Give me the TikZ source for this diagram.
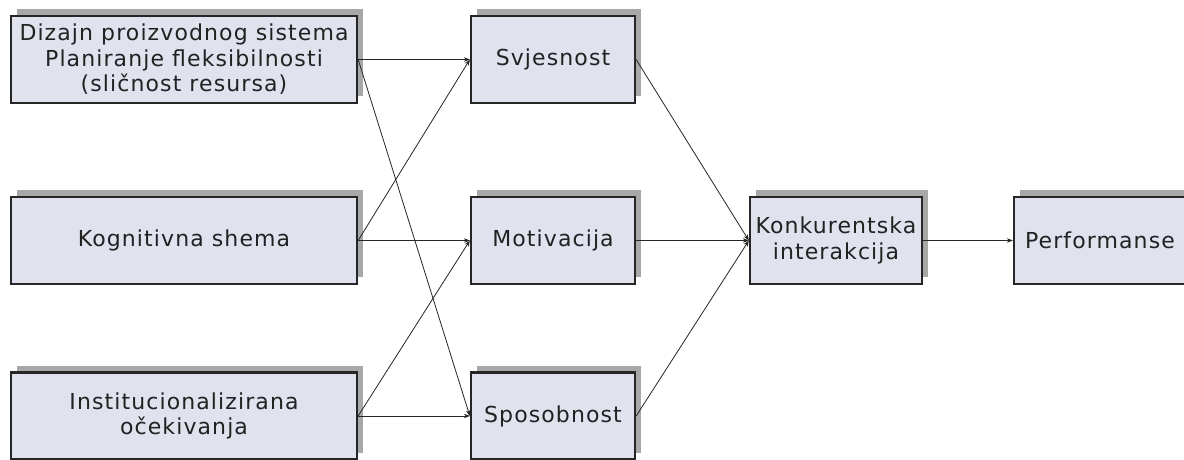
\documentclass[tikz,border=0pt]{standalone}
\usepackage{fontspec}
\setmainfont{DejaVu Sans}[LetterSpace=5.0]
\usetikzlibrary{arrows.meta,shadows}
\definecolor{boxfill}{HTML}{E0E2EE}
\definecolor{shadowc}{HTML}{A8A8A8}
\definecolor{edgec}{HTML}{262626}
\definecolor{textc}{HTML}{222222}
\tikzset{
  box/.style={draw=edgec, line width=2.3pt, fill=boxfill, minimum height=87pt,
    align=center, inner sep=0pt, text=textc,
    font=\fontsize{22}{25.5}\selectfont,
    general shadow={fill=shadowc, shadow xshift=6pt, shadow yshift=7pt}},
  widebox/.style={box, minimum width=346pt},
  midbox/.style={box, minimum width=164pt},
  rightbox/.style={box, minimum width=172pt},
  conn/.style={draw=edgec, line width=0.8pt, -{Stealth[length=6pt,width=4.5pt]}}
}
\begin{document}
\begin{tikzpicture}[x=1pt,y=-1pt]
  \clip (0,0) rectangle (1184,459);
  \fill[white] (0,0) rectangle (1184,459);
  \node[widebox] (A) at (184,59.5) {Dizajn proizvodnog sistema\\Planiranje fleksibilnosti\\(sličnost resursa)};
  \node[widebox] (B) at (184,240.5) {Kognitivna shema};
  \node[widebox] (C) at (184,416) {Institucionalizirana\\očekivanja};
  \node[midbox] (S) at (553,59.5) {Svjesnost};
  \node[midbox] (M) at (553,240.5) {Motivacija};
  \node[midbox] (P) at (553,416) {Sposobnost};
  \node[rightbox] (K) at (836,240.5) {Konkurentska\\interakcija};
  \node[rightbox] (R) at (1100,240.5) {Performanse};
  \draw[conn] (A.east) -- (S.west);
  \draw[conn] (A.east) -- (P.west);
  \draw[conn] (B.east) -- (S.west);
  \draw[conn] (B.east) -- (M.west);
  \draw[conn] (C.east) -- (M.west);
  \draw[conn] (C.east) -- (P.west);
  \draw[conn] (S.east) -- (K.west);
  \draw[conn] (M.east) -- (K.west);
  \draw[conn] (P.east) -- (K.west);
  \draw[conn] (K.east) -- (R.west);
\end{tikzpicture}
\end{document}
